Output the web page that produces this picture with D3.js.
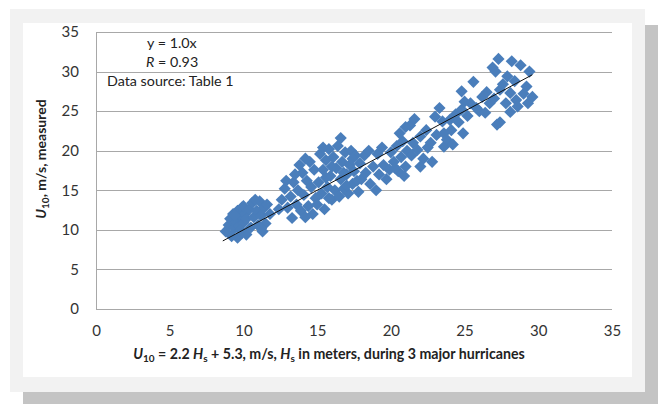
<!DOCTYPE html>
<html>
<head>
<meta charset="utf-8">
<script src="https://cdn.jsdelivr.net/npm/d3@7"></script>
<style>
  html, body { margin: 0; padding: 0; background: #ffffff; }
  svg { display: block; }
  text { font-family: Lato, "Open Sans", "Liberation Sans", sans-serif; }
</style>
</head>
<body>
<svg id="chart" width="658" height="404"></svg>
<script>
// ---- data ----
const xTicks = [0, 5, 10, 15, 20, 25, 30, 35];
const yTicks = [0, 5, 10, 15, 20, 25, 30, 35];
const trendX = [8.6, 29.6];
const trendSlope = 1.0;
const annotations = ["y = 1.0x", "R = 0.93", "Data source: Table 1"];

const predicted = [
  // cluster 8.7-10.2
  8.8,9.0,9.1,9.2,9.3,9.4,9.5,9.6,9.6,9.7,9.8,9.9,9.9,10.0,10.1,10.2,9.4,9.8,10.0,10.2,
  // 10.3-11.8
  10.4,10.5,10.6,10.7,10.9,11.0,11.1,11.2,11.3,11.4,11.5,11.6,11.8,11.2,10.8,
  // 12.2-15
  12.4,12.6,12.8,13.0,13.2,13.3,13.4,13.6,13.7,13.9,14.0,14.1,14.2,14.3,14.4,14.5,14.6,14.7,14.8,14.9,13.8,14.2,13.5,12.9,
  // 15-18
  15.0,15.1,15.2,15.3,15.4,15.5,15.6,15.7,15.8,15.9,16.0,16.1,16.2,16.3,16.4,16.5,16.6,16.6,16.7,16.8,16.9,17.0,17.1,17.2,17.3,17.4,17.5,17.6,17.7,17.8,17.9,15.4,16.0,16.8,15.8,17.0,15.6,17.4,
  // 18-21.3
  18.0,18.2,18.3,18.5,18.6,18.8,19.0,19.1,19.2,19.4,19.5,19.7,19.9,20.0,20.2,20.4,20.5,20.7,20.8,21.0,21.1,21.3,21.0,20.6,20.3,20.9,
  // 21.5-24.5
  21.5,21.6,21.8,22.0,22.2,22.4,22.5,22.7,22.8,23.0,23.1,23.3,23.5,23.6,23.6,23.8,24.0,24.1,24.2,24.4,22.0,21.4,
  // 24.5-29.6
  24.8,25.6,24.9,24.8,25.4,25.8,26.2,26.7,27.2,27.4,28.1,28.5,28.1,27.4,29.2,29.6,27.9,29.4,28.8,28.2,27.3,26.9,27.1,26.0,25.2,26.5,27.0,27.8,28.6,29.0,27.6,28.4,25.0,26.4,24.6,29.3
];
const measured = [
  9.8,10.6,11.4,9.2,12.0,10.2,11.0,9.0,12.4,10.5,11.8,9.6,12.8,10.9,12.0,9.4,11.8,10.0,13.0,11.4,
  12.6,10.3,13.4,11.6,12.4,10.6,13.6,11.8,9.8,12.8,10.8,13.2,12.0,10.2,13.8,
  12.6,13.8,15.2,12.8,14.2,11.5,16.0,13.2,15.0,12.4,17.2,14.4,11.6,16.2,13.0,18.6,15.4,12.0,17.6,14.0,18.2,19.0,17.0,16.2,
  13.2,16.0,19.6,14.6,17.6,12.6,18.8,15.4,20.2,16.8,13.8,19.2,15.0,17.8,20.6,14.2,21.6,16.4,18.6,15.2,19.8,17.0,14.6,18.2,20.0,15.8,17.4,19.4,16.2,14.8,18.4,20.4,18.0,17.2,14.0,15.6,16.6,19.0,
  16.4,19.4,17.2,20.0,15.8,18.0,15.0,19.6,17.0,20.4,18.2,16.4,17.6,19.8,18.6,20.6,17.4,19.2,21.2,18.0,20.0,23.2,23.0,22.2,17.8,16.8,
  21.0,24.0,20.1,21.8,19.0,22.6,20.4,21.0,18.6,24.3,22.0,25.4,23.7,22.2,20.5,21.4,23.9,22.6,20.8,24.6,18.0,19.4,
  27.5,28.7,22.2,25.2,26.0,25.4,26.8,26.0,23.3,23.6,24.9,26.4,27.3,27.7,28.1,26.8,29.4,30.0,30.8,31.3,31.6,30.5,30.0,25.0,24.4,27.4,26.6,26.0,25.6,27.2,28.4,28.8,26.2,24.8,23.6,26.0
];

// ---- layout ----
const svg = d3.select("#chart");
// frame: shadow, grey panel, white chart area
svg.append("rect").attr("x", 23).attr("y", 25).attr("width", 635).attr("height", 379).attr("fill", "#c4c4c4");
svg.append("rect").attr("x", 10).attr("y", 9).attr("width", 635).attr("height", 383).attr("fill", "#f2f2f2");
svg.append("rect").attr("x", 23).attr("y", 23).attr("width", 609).attr("height", 354).attr("fill", "#ffffff");

const x = d3.scaleLinear().domain([0, 35]).range([96, 612]);
const y = d3.scaleLinear().domain([0, 35]).range([309, 32]);

const grid = "#a8a8a8";
// horizontal gridlines
svg.append("g").selectAll("line").data(yTicks).join("line")
  .attr("x1", x(0)).attr("x2", x(35))
  .attr("y1", d => Math.round(y(d)) + 0.5).attr("y2", d => Math.round(y(d)) + 0.5)
  .attr("stroke", grid).attr("stroke-width", 1);
// left axis line
svg.append("line").attr("x1", x(0) + 0.5).attr("x2", x(0) + 0.5)
  .attr("y1", y(35)).attr("y2", y(0)).attr("stroke", grid);

// y tick labels
const yAxis = d3.axisLeft(y).tickValues(yTicks).tickSize(0).tickPadding(17);
const gy = svg.append("g").attr("transform", `translate(${x(0)},0)`).call(yAxis);
gy.select(".domain").remove();
gy.selectAll("text").attr("font-size", 15).attr("fill", "#333").attr("font-family", "Lato, 'Open Sans', sans-serif");

// x tick labels
const xAxis = d3.axisBottom(x).tickValues(xTicks).tickSize(0).tickPadding(16);
const gx = svg.append("g").attr("transform", `translate(0,${y(0)})`).call(xAxis);
gx.select(".domain").remove();
gx.selectAll("text").attr("font-size", 15).attr("fill", "#333").attr("font-family", "Lato, 'Open Sans', sans-serif");

// markers
const pts = predicted.map((p, i) => [p, measured[i]]);
const sym = d3.symbol().type(d3.symbolSquare).size(74);
svg.append("g").selectAll("path").data(pts).join("path")
  .attr("d", sym)
  .attr("transform", d => `translate(${x(d[0])},${y(d[1])}) rotate(45)`)
  .attr("fill", "#4a7ebb");

// trend line
svg.append("line")
  .attr("x1", x(trendX[0])).attr("y1", y(trendSlope * trendX[0]))
  .attr("x2", x(trendX[1])).attr("y2", y(trendSlope * trendX[1]))
  .attr("stroke", "#111").attr("stroke-width", 1);

// annotations
const ann = svg.append("g").attr("font-size", 14.3).attr("fill", "#222");
ann.append("text").attr("x", 147).attr("y", 48).text(annotations[0]);
const r = ann.append("text").attr("x", 146).attr("y", 67);
r.append("tspan").attr("font-style", "italic").text("R");
r.append("tspan").text(annotations[1].slice(1));
ann.append("text").attr("x", 107).attr("y", 86).text(annotations[2]);

// x axis title
const xt = svg.append("text").attr("x", 329).attr("y", 359).attr("text-anchor", "middle")
  .attr("font-size", 14.2).attr("font-weight", "bold").attr("fill", "#222");
xt.append("tspan").attr("font-style", "italic").text("U");
xt.append("tspan").attr("font-size", 10).attr("dy", 3).text("10");
xt.append("tspan").attr("dy", -3).text(" = 2.2 ");
xt.append("tspan").attr("font-style", "italic").text("H");
xt.append("tspan").attr("font-size", 10).attr("dy", 3).text("s");
xt.append("tspan").attr("dy", -3).text(" + 5.3, m/s, ");
xt.append("tspan").attr("font-style", "italic").text("H");
xt.append("tspan").attr("font-size", 10).attr("dy", 3).text("s");
xt.append("tspan").attr("dy", -3).text(" in meters, during 3 major hurricanes");

// y axis title
const yt = svg.append("text").attr("transform", "translate(46,159) rotate(-90)")
  .attr("text-anchor", "middle").attr("font-size", 14).attr("font-weight", "bold").attr("fill", "#222");
yt.append("tspan").attr("font-style", "italic").text("U");
yt.append("tspan").attr("font-size", 10).attr("dy", 3).text("10");
yt.append("tspan").attr("dy", -3).text(", m/s, measured");
</script>
</body>
</html>
